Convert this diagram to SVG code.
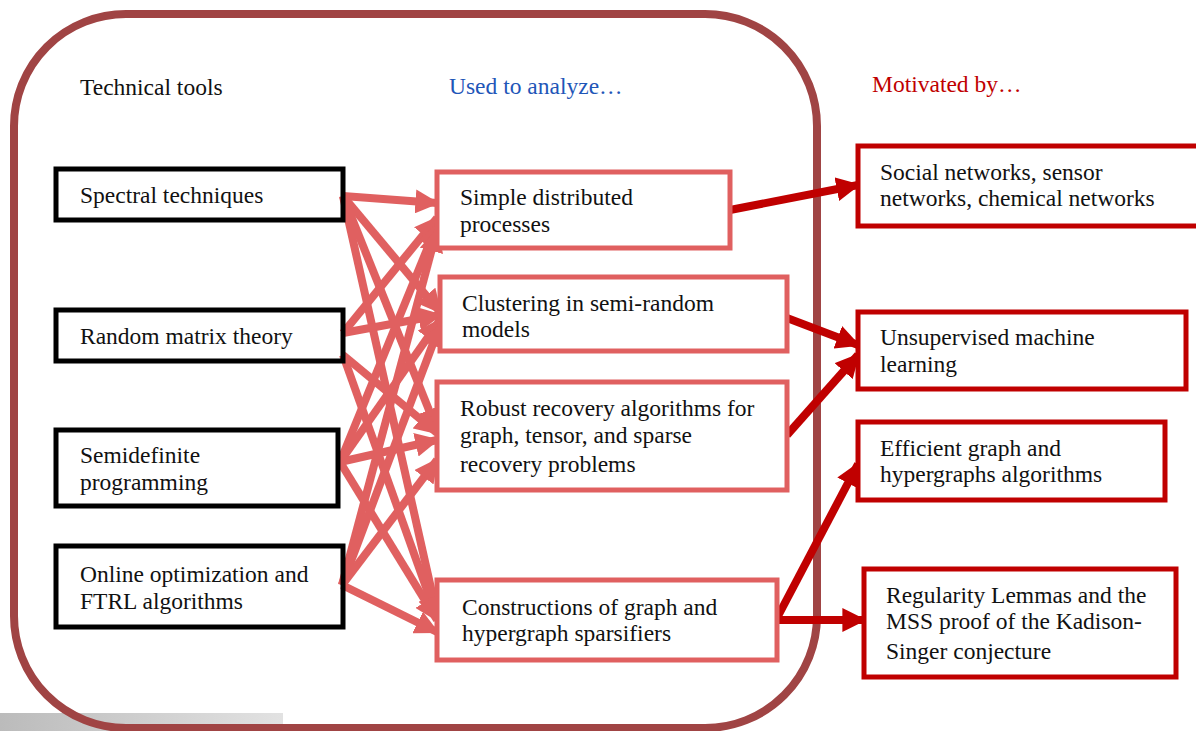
<svg xmlns="http://www.w3.org/2000/svg" width="1196" height="731" viewBox="0 0 1196 731">
<style>
text{font-family:"Liberation Serif","Times New Roman",serif;font-size:23.5px;fill:#111}
.lb{fill:none;stroke:#000;stroke-width:5}
.mb{fill:#fff;stroke:#e06060;stroke-width:5}
.rb{fill:#fff;stroke:#c00000;stroke-width:5}
.la{stroke:#e06060;stroke-width:8;fill:none;marker-end:url(#ha)}
.ra{stroke:#c00000;stroke-width:8;fill:none;marker-end:url(#hr)}
</style>
<defs>
<marker id="ha" viewBox="0 0 10 10" refX="9" refY="5" markerWidth="3" markerHeight="3" orient="auto" markerUnits="strokeWidth"><path d="M0,0L10,5L0,10z" fill="#e06060"/></marker>
<marker id="hr" viewBox="0 0 10 10" refX="9" refY="5" markerWidth="3" markerHeight="3" orient="auto" markerUnits="strokeWidth"><path d="M0,0L10,5L0,10z" fill="#c00000"/></marker>
<linearGradient id="gb" x1="0" x2="1" y1="0" y2="0"><stop offset="0" stop-color="#bbbbbb"/><stop offset="1" stop-color="#e2e2e2"/></linearGradient>
</defs>
<rect x="0" y="713" width="283" height="18" fill="url(#gb)"/>
<rect id="frame" x="14" y="14" width="803" height="714" rx="112" ry="112" fill="none" stroke="#a04444" stroke-width="8"/>
<text x="80" y="95">Technical tools</text>
<text x="449" y="94" style="fill:#1f56b8">Used to analyze…</text>
<text x="872" y="92" style="fill:#c00000">Motivated by…</text>
<g id="connectors">
<line class="la" x1="343" y1="196" x2="437" y2="203"/>
<line class="la" x1="343" y1="196" x2="440" y2="312"/>
<line class="la" x1="343" y1="196" x2="437" y2="430"/>
<line class="la" x1="343" y1="196" x2="437" y2="615"/>
<line class="la" x1="343" y1="333" x2="437" y2="218"/>
<line class="la" x1="343" y1="333" x2="440" y2="315"/>
<line class="la" x1="343" y1="355" x2="437" y2="433"/>
<line class="la" x1="343" y1="355" x2="437" y2="618"/>
<line class="la" x1="340" y1="462" x2="437" y2="225"/>
<line class="la" x1="340" y1="462" x2="440" y2="320"/>
<line class="la" x1="340" y1="462" x2="437" y2="440"/>
<line class="la" x1="340" y1="462" x2="437" y2="620"/>
<line class="la" x1="342" y1="585" x2="437" y2="230"/>
<line class="la" x1="342" y1="585" x2="440" y2="325"/>
<line class="la" x1="342" y1="585" x2="437" y2="460"/>
<line class="la" x1="342" y1="585" x2="437" y2="632"/>
<line class="ra" x1="730" y1="210" x2="858" y2="185"/>
<line class="ra" x1="787" y1="318" x2="858" y2="345"/>
<line class="ra" x1="787" y1="435" x2="858" y2="355"/>
<line class="ra" x1="777" y1="618" x2="858" y2="464"/>
<line class="ra" x1="777" y1="620" x2="864" y2="620"/>
</g>
<g id="spectral"><rect class="lb" x="56" y="169" width="287" height="51"/><text x="80" y="203">Spectral techniques</text></g>
<g id="rmt"><rect class="lb" x="56" y="310" width="287" height="51"/><text x="80" y="344">Random matrix theory</text></g>
<g id="sdp"><rect class="lb" x="56" y="430" width="282" height="76"/><text x="80" y="463">Semidefinite</text><text x="80" y="490">programming</text></g>
<g id="online"><rect class="lb" x="56" y="546" width="287" height="81"/><text x="80" y="582">Online optimization and</text><text x="80" y="609">FTRL algorithms</text></g>
<g id="simple"><rect class="mb" x="437" y="172" width="293" height="76"/><text x="460" y="205">Simple distributed</text><text x="460" y="232">processes</text></g>
<g id="clustering"><rect class="mb" x="440" y="277" width="347" height="74"/><text x="462" y="311">Clustering in semi-random</text><text x="462" y="337">models</text></g>
<g id="robust"><rect class="mb" x="437" y="382" width="350" height="108"/><text x="460" y="416">Robust recovery algorithms for</text><text x="460" y="443">graph, tensor, and sparse</text><text x="460" y="472">recovery problems</text></g>
<g id="constructions"><rect class="mb" x="437" y="580" width="340" height="80"/><text x="462" y="615">Constructions of graph and</text><text x="462" y="641">hypergraph sparsifiers</text></g>
<g id="social"><rect class="rb" x="858" y="146" width="345" height="80"/><text x="880" y="180">Social networks, sensor</text><text x="880" y="206">networks, chemical networks</text></g>
<g id="unsupervised"><rect class="rb" x="858" y="312" width="328" height="77"/><text x="880" y="345">Unsupervised machine</text><text x="880" y="372">learning</text></g>
<g id="efficient"><rect class="rb" x="858" y="422" width="307" height="78"/><text x="880" y="456">Efficient graph and</text><text x="880" y="482">hypergraphs algorithms</text></g>
<g id="regularity"><rect class="rb" x="864" y="569" width="312" height="108"/><text x="886" y="603">Regularity Lemmas and the</text><text x="886" y="629">MSS proof of the Kadison-</text><text x="886" y="659">Singer conjecture</text></g>
</svg>
